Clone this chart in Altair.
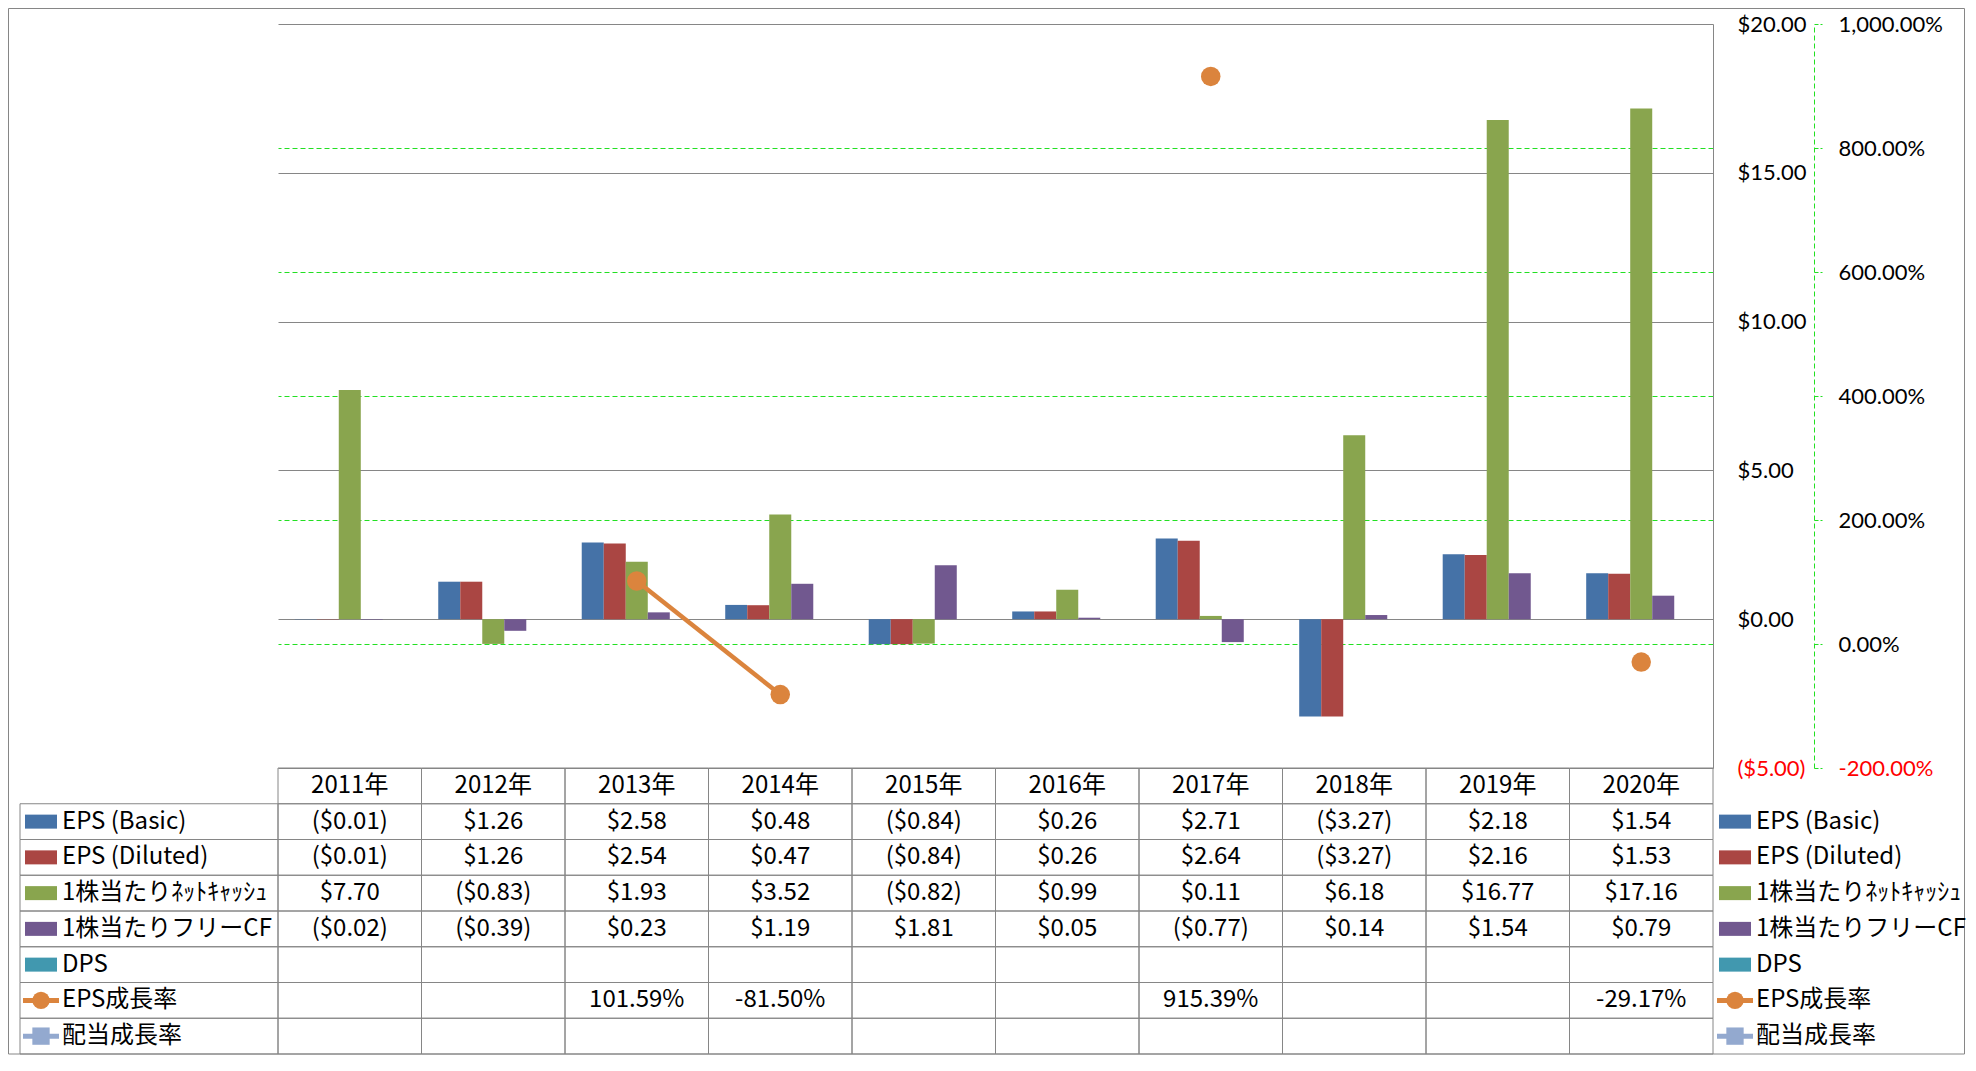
import altair as alt
import pandas as pd

# ---------------- data ----------------
years = ["2011年", "2012年", "2013年", "2014年", "2015年",
         "2016年", "2017年", "2018年", "2019年", "2020年"]
series_names = ["EPS (Basic)", "EPS (Diluted)", "1株当たりﾈｯﾄｷｬｯｼｭ",
                "1株当たりフリーCF", "DPS", "EPS成長率", "配当成長率"]
bar_series = series_names[:5]
line_series = series_names[5:]
series_colors = ["#4572A7", "#AA4643", "#89A54E", "#71588F",
                 "#4198AF", "#DB843D", "#93A9CF"]

eps_basic = [-0.01, 1.26, 2.58, 0.48, -0.84, 0.26, 2.71, -3.27, 2.18, 1.54]
eps_diluted = [-0.01, 1.26, 2.54, 0.47, -0.84, 0.26, 2.64, -3.27, 2.16, 1.53]
net_cash = [7.70, -0.83, 1.93, 3.52, -0.82, 0.99, 0.11, 6.18, 16.77, 17.16]
free_cf = [-0.02, -0.39, 0.23, 1.19, 1.81, 0.05, -0.77, 0.14, 1.54, 0.79]
dps = [None] * 10
eps_growth = [None, None, 1.0159, -0.8150, None, None, 9.1539, None, None, -0.2917]
div_growth = [None] * 10

dollar_ticks = [-5, 0, 5, 10, 15, 20]
pct_ticks = [-2, 0, 2, 4, 6, 8, 10]

# ---------------- tables built from the lists ----------------
bar_values = {"EPS (Basic)": eps_basic, "EPS (Diluted)": eps_diluted,
              "1株当たりﾈｯﾄｷｬｯｼｭ": net_cash, "1株当たりフリーCF": free_cf, "DPS": dps}
bar_rows = []
for s, vals in bar_values.items():
    for y, v in zip(years, vals):
        if v is not None:
            bar_rows.append({"series": s, "row": s, "year": y, "value": v})
bar_df = pd.DataFrame(bar_rows)

growth_df = pd.DataFrame({"year": years, "growth": eps_growth})
pct_rows = [{"row": "EPS成長率", "year": y, "value": v}
            for y, v in zip(years, eps_growth) if v is not None]
pct_df = pd.DataFrame(pct_rows)

table_rows = ["header"] + series_names
cells_df = pd.DataFrame([{"row": r, "year": y} for r in table_rows for y in years])
header_df = pd.DataFrame({"row": ["header"] * len(years), "year": years, "label": years})
names_df = pd.DataFrame({"row": series_names})
swatch_df = pd.DataFrame({"row": bar_series})
lineleg_df = pd.DataFrame({"row": line_series})

# ---------------- style ----------------
FONT = "Noto Sans CJK JP"
AXIS_FONT = "Lato"
FS = 24
AFS = 22
GRAY = "#868686"
GREEN = "#22E022"
ORANGE = "#DB843D"
PLOT_W = 1435
TOP_ROOM = 16
PLOT_H = 744
TABLE_BOTTOM = PLOT_H + 286

neg_red = {"condition": {"test": "datum.value < 0", "value": "#FF0000"}, "value": "#000000"}
inner_grid = {"condition": {"test": "datum.value <= -2 || datum.value >= 10", "value": 0}, "value": 1}

color_enc = alt.Color("row:N", scale=alt.Scale(domain=series_names, range=series_colors), legend=None)

# ---------------- plot ----------------
x_plot = alt.X("year:N", sort=years,
               scale=alt.Scale(domain=years, paddingInner=0.233, paddingOuter=0.1167),
               axis=None)

bars = alt.Chart(bar_df).mark_bar().encode(
    x=x_plot,
    xOffset=alt.XOffset("series:N", sort=bar_series,
                        scale=alt.Scale(domain=bar_series, paddingInner=0, paddingOuter=0)),
    y=alt.Y("value:Q",
            scale=alt.Scale(domain=[-5, 20], nice=False, zero=False),
            axis=alt.Axis(orient="right", values=dollar_ticks, format="($.2f",
                          labelFont=AXIS_FONT, labelFontSize=AFS, labelColor=neg_red,
                          ticks=False, tickSize=0, labelPadding=24,
                          domainColor=GRAY, domainWidth=1,
                          grid=True, gridColor=GRAY, gridWidth=1,
                          labelFlush=False, labelOverlap=False, title=None)),
    color=color_enc,
)

pct_y = alt.Y("growth:Q",
              scale=alt.Scale(domain=[-2, 10], nice=False, zero=False),
              axis=alt.Axis(orient="right", offset=101, values=pct_ticks, format=",.2%",
                            labelFont=AXIS_FONT, labelFontSize=AFS, labelColor=neg_red,
                            domainColor=GREEN, domainDash=[5, 3], domainWidth=1,
                            ticks=True, tickColor=GREEN, tickDash=[4, 2], tickSize=8,
                            labelPadding=16,
                            grid=True, gridColor=GREEN, gridDash=[5, 3], gridWidth=1,
                            gridOpacity=inner_grid,
                            labelFlush=False, labelOverlap=False, title=None))

x_line = alt.X("year:N", sort=years, axis=None)

line = alt.Chart(growth_df).mark_line(
    color=ORANGE, strokeWidth=4.5, invalid="break-paths-show-domains"
).encode(x=x_line, y=pct_y)

pts = alt.Chart(growth_df).mark_point(
    filled=True, size=380, opacity=1, color=ORANGE
).encode(x=x_line, y=pct_y)

plot = alt.layer(bars, alt.layer(line, pts)).resolve_scale(y="independent")

# ---------------- data table ----------------
x_tab = alt.X("year:N", sort=years,
              scale=alt.Scale(domain=years, paddingInner=0, paddingOuter=0), axis=None)
y_tab = alt.Y("row:N", sort=table_rows,
              scale=alt.Scale(domain=table_rows, range=[PLOT_H, TABLE_BOTTOM],
                              paddingInner=0, paddingOuter=0),
              axis=None)

cells = alt.Chart(cells_df).mark_rect(fillOpacity=0, stroke=GRAY, strokeWidth=1).encode(
    x=x_tab, y=y_tab)

legend_cells = alt.Chart(names_df).mark_rect(fillOpacity=0, stroke=GRAY, strokeWidth=1).encode(
    x=alt.value(-258), x2=alt.value(0), y=y_tab)

header_text = alt.Chart(header_df).mark_text(font=FONT, fontSize=FS, color="black").encode(
    x=x_tab, y=y_tab, text="label:N")

value_text = alt.Chart(bar_df).mark_text(font=FONT, fontSize=FS, color="black").encode(
    x=x_tab, y=y_tab, text=alt.Text("value:Q", format="($.2f"))

pct_text = alt.Chart(pct_df).mark_text(font=FONT, fontSize=FS, color="black").encode(
    x=x_tab, y=y_tab, text=alt.Text("value:Q", format=".2%"))

shape_enc = alt.Shape("row:N", scale=alt.Scale(domain=line_series, range=["circle", "square"]),
                      legend=None)


def legend_block(x0):
    sw = alt.Chart(swatch_df).mark_rect(height=14).encode(
        x=alt.value(x0), x2=alt.value(x0 + 32), y=y_tab, color=color_enc)
    ln = alt.Chart(lineleg_df).mark_rule(strokeWidth=5).encode(
        x=alt.value(x0 - 2), x2=alt.value(x0 + 34), y=y_tab, color=color_enc)
    mk = alt.Chart(lineleg_df).mark_point(filled=True, opacity=1, size=300).encode(
        x=alt.value(x0 + 16), y=y_tab, color=color_enc, shape=shape_enc)
    tx = alt.Chart(names_df).mark_text(align="left", font=FONT, fontSize=FS, color="black").encode(
        x=alt.value(x0 + 37), y=y_tab, text="row:N")
    return [sw, ln, mk, tx]


table = alt.layer(cells, legend_cells, header_text, value_text, pct_text,
                  *legend_block(-253), *legend_block(1441))

border = alt.Chart(pd.DataFrame({"k": [0]})).mark_rect(
    fillOpacity=0, stroke=GRAY, strokeWidth=1
).encode(x=alt.value(-269.5), x2=alt.value(1686.5),
         y=alt.value(-TOP_ROOM + 0.5), y2=alt.value(TABLE_BOTTOM))

chart = alt.layer(border, plot, table).resolve_scale(
    x="independent", y="independent"
).properties(
    width=PLOT_W, height=PLOT_H, padding=0
).configure(
    locale={"number": {"decimal": ".", "thousands": ",", "grouping": [3],
                       "currency": ["$", ""], "minus": "-"}}
).configure_view(strokeWidth=0)

chart.save("out.html", embed_options={"renderer": "svg", "actions": False})
